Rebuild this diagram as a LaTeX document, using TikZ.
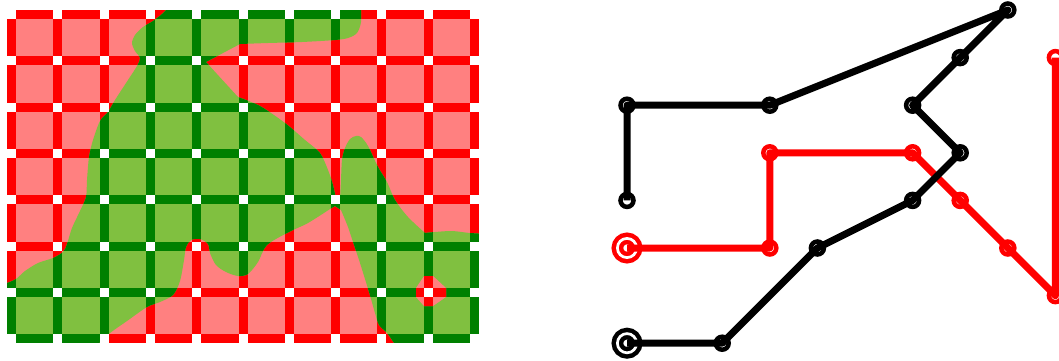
\documentclass[tikz,border=0pt]{standalone}
\definecolor{pinkfill}{HTML}{FF8080}
\definecolor{leaf}{HTML}{80C040}
\definecolor{leafdark}{HTML}{008000}
% grid bars of the sampled field, in one colour
\newcommand{\cellbars}[1]{%
  \foreach \i in {0,...,10} \fill[#1] ({7+46.3*\i},10) rectangle ++(9,333);
  \foreach \j in {0,...,7} \fill[#1] (7,{10+46.3*\j}) rectangle ++(472,9);
}
\tikzset{
  vtx/.style={circle,draw,inner sep=0pt,minimum size=13pt,line width=4.5pt},
  start/.style={circle,draw,inner sep=0pt,minimum size=19.2pt,line width=4.5pt,
    double=white,double distance=2.7pt},
  pathline/.style={line width=7pt,line join=round}
}
\begin{document}
\begin{tikzpicture}[x=1pt,y=-1pt]
  \useasboundingbox (0,0) rectangle (1059,360);
  % outside region
  \fill[pinkfill] (7,10) rectangle (479,343);
  \cellbars{red}
  % inside region
  \begin{scope}
    \clip (167,-5) -- (361,-5)
      -- plot[smooth] coordinates {(361,5) (361,22) (357,33) (348,38) (335,40) (302,42) (268,43) (240,44)}
      -- (206,62) -- (238,97)
      -- plot[smooth] coordinates {(238,97) (260,106) (285,123) (305,140) (320,153) (328,170) (333,185) (336,199)}
      -- plot[smooth] coordinates {(340,199) (341,180) (342,160) (345,148) (350,139) (356,136) (361,137) (368,146) (378,167) (387,182) (395,200) (408,217) (425,233)}
      -- plot[smooth] coordinates {(425,233) (435,232) (452,231) (470,233) (490,234)}
      -- (490,355) -- (394,355)
      -- plot[smooth] coordinates {(394,343) (387,333) (379,325) (375,313) (369,292) (360,263) (354,245) (348,227) (341,210)}
      -- (335,206)
      -- plot[smooth] coordinates {(330,209) (308,223) (289,232) (267,245) (258,262) (248,274) (238,276) (226,272) (216,265) (210,253) (208,244) (200,239) (191,240) (186,247) (184,260) (180,281) (173,295) (160,302) (147,307) (127,321) (110,333) (97,345)}
      -- (95,355) -- (-5,355) -- (-5,284)
      -- plot[smooth] coordinates {(7,283) (16,279) (25,271) (38,263) (53,258) (63,252) (67,244) (72,228) (80,211) (86,197) (87,180) (89,157) (93,140) (100,121) (108,112) (115,100) (128,80) (137,66) (140,58) (135,51) (132,43) (135,35) (143,27) (153,21) (162,14) (168,8)}
      -- cycle;
    \fill[leaf] (7,10) rectangle (479,343);
    \cellbars{leafdark}
  \end{scope}
  % hole
  \begin{scope}
    \clip (424,276) -- (433,276) -- (446,288) -- (446,297) -- (433,306) -- (424,306) -- (416,297) -- (416,288) -- cycle;
    \fill[pinkfill] (410,270) rectangle (450,310);
    \cellbars{red}
  \end{scope}
  % sample points
  \foreach \i in {0,...,10}
    \foreach \j in {0,...,7}
      \fill[white] ({7+46.3*\i},{10+46.3*\j}) rectangle ++(9,9);

  \begin{scope}[shift={(627,10)},x=47.6pt,y=-47.6pt]
    % red path
    \node[start,draw=red] (r0) at (0,5) {};
    \foreach \n/\x/\y in {r1/3/5, r2/3/3, r3/6/3, r4/7/4, r5/8/5, r6/9/6, r7/9/1}
      \node[vtx,draw=red] (\n) at (\x,\y) {};
    \draw[pathline,red] (r0.center) -- (r1.center) -- (r2.center) -- (r3.center)
      -- (r4.center) -- (r5.center) -- (r6.center) -- (r7.center);
    % black path
    \node[start,draw=black] (b0) at (0,7) {};
    \foreach \n/\x/\y in {b1/2/7, b2/4/5, b3/6/4, b4/7/3, b5/6/2, b6/7/1, b7/8/0, b8/3/2, b9/0/2, b10/0/4}
      \node[vtx,draw=black] (\n) at (\x,\y) {};
    \draw[pathline,black] (b0.center) -- (b1.center) -- (b2.center) -- (b3.center)
      -- (b4.center) -- (b5.center) -- (b6.center) -- (b7.center) -- (b8.center)
      -- (b9.center) -- (b10.center);
  \end{scope}
\end{tikzpicture}
\end{document}
